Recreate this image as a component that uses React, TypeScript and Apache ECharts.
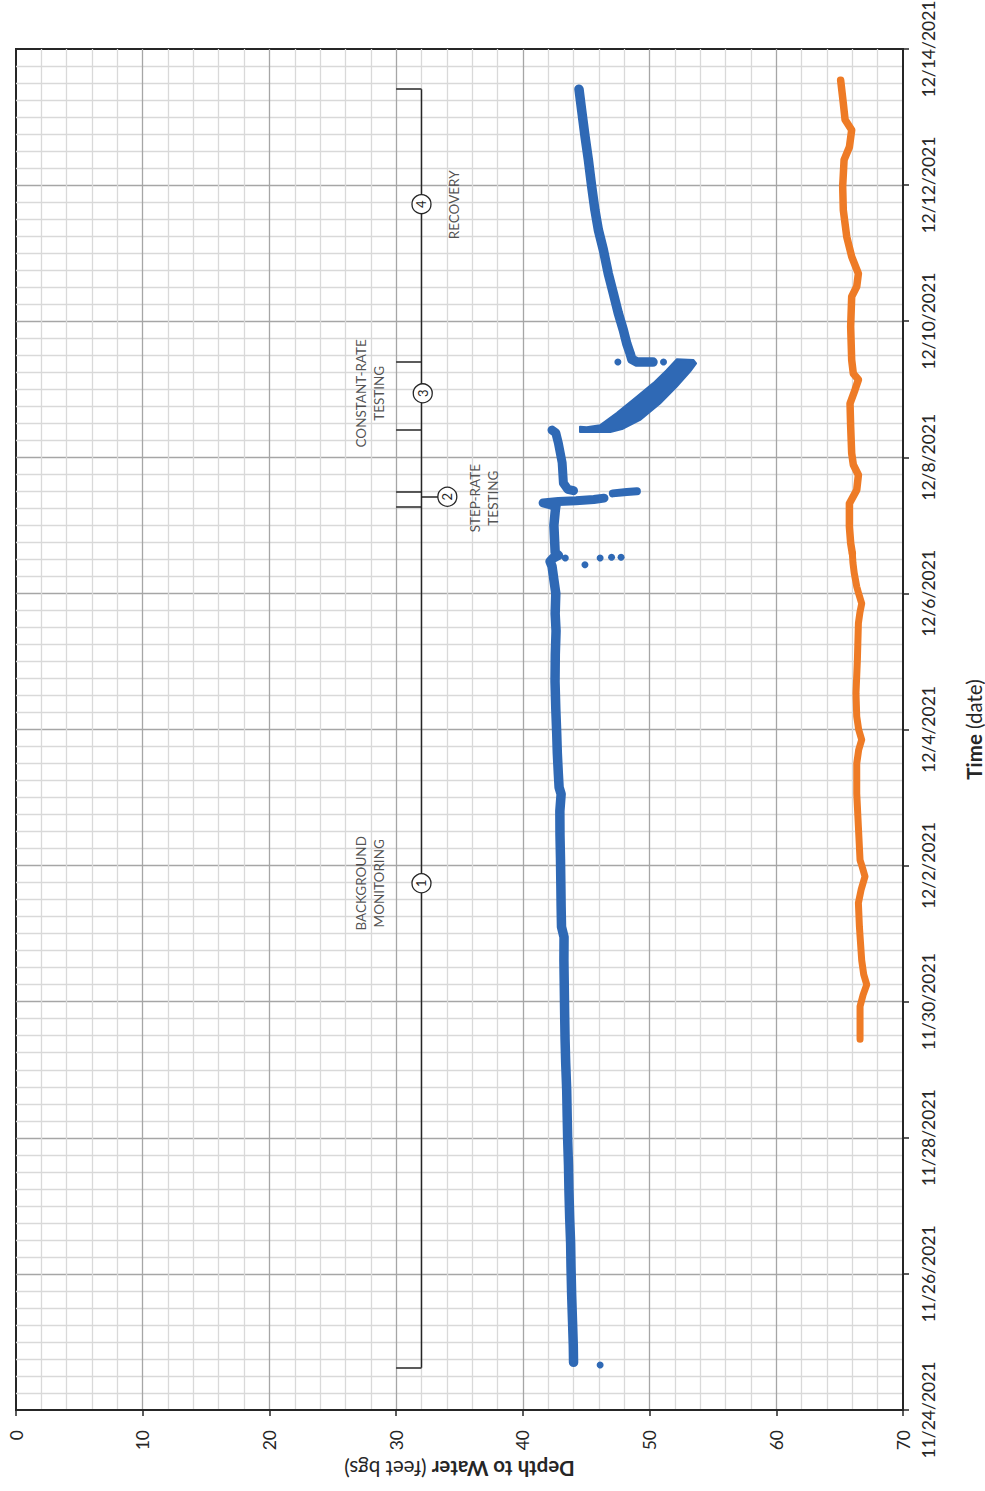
import React, { useEffect, useRef } from 'react';
import * as echarts from 'echarts';

const BLUE = '#2f69b5';
const ORANGE = '#ee7b26';
const INK = '#262626';
const FONT = 'Lato, "Noto Sans", sans-serif';

// Depth to water axis, feet below ground surface
const depthTicks = [0, 10, 20, 30, 40, 50, 60, 70];
// Time axis: days after 11/24/2021 00:00, labelled every 2 days
const dateLabels = [
  '11/24/2021', '11/26/2021', '11/28/2021', '11/30/2021', '12/2/2021', '12/4/2021',
  '12/6/2021', '12/8/2021', '12/10/2021', '12/12/2021', '12/14/2021',
];
const dayStep = 2;

// Pumping well readings, [day, depth ft]
const wellBackground: number[][] = [
  [0.70, 44.0], [0.95, 43.98], [1.30, 43.92], [1.70, 43.85], [2.10, 43.80], [2.45, 43.77],
  [2.80, 43.70], [3.20, 43.64], [3.60, 43.60], [3.95, 43.54], [4.30, 43.50], [4.70, 43.46],
  [5.10, 43.38], [5.45, 43.33], [5.80, 43.30], [6.20, 43.27], [6.60, 43.24], [6.95, 43.25],
  [7.10, 43.05], [7.40, 43.02], [7.70, 43.0], [8.10, 42.97], [8.45, 42.93], [8.80, 42.92],
  [9.05, 43.02], [9.15, 42.86], [9.35, 42.80], [9.65, 42.72], [9.95, 42.67], [10.30, 42.60],
  [10.70, 42.54], [11.10, 42.56], [11.45, 42.62], [11.70, 42.55], [12.00, 42.60], [12.20, 42.45],
  [12.40, 42.30], [12.47, 42.15], [12.52, 42.40], [12.56, 42.80], [12.60, 42.55], [12.80, 42.50],
  [13.00, 42.45], [13.20, 42.55], [13.28, 42.60],
];
const wellStepLow: number[][] = [
  [13.28, 42.6], [13.33, 41.6], [13.35, 42.8], [13.36, 44.2], [13.38, 45.6], [13.40, 46.4],
];
const wellStepHigh: number[][] = [[13.47, 47.1], [13.49, 48.2], [13.50, 49.0]];
const wellAfterStep: number[][] = [
  [13.51, 44.0], [13.53, 43.55], [13.62, 43.2], [13.92, 43.1], [14.21, 42.8], [14.36, 42.6], [14.40, 42.3],
];
// Outline of the constant-rate drawdown readings, [day, depth ft]
const drawdownEnvelope: number[][] = [
  [14.45, 44.51], [14.37, 44.51], [14.37, 46.9], [14.42, 47.9], [14.55, 49.25], [14.79, 50.82],
  [15.04, 52.14], [15.26, 53.19], [15.38, 53.67], [15.43, 53.45], [15.44, 52.14], [15.28, 51.35],
  [15.09, 50.30], [14.89, 48.99], [14.65, 47.41], [14.47, 46.09], [14.44, 45.04],
];
const wellRecovery: number[][] = [
  [15.40, 50.27], [15.40, 49.0], [15.44, 48.6], [15.53, 48.46], [15.67, 48.2], [15.87, 47.93],
  [16.12, 47.53], [16.41, 47.14], [16.70, 46.74], [17.05, 46.35], [17.34, 45.96], [17.63, 45.69],
  [17.98, 45.43], [18.37, 45.17], [18.71, 44.91], [19.10, 44.64], [19.41, 44.43],
];
const wellStray: number[][] = [
  [0.66, 46.1], [12.52, 43.35], [12.42, 44.9], [12.52, 46.1], [12.53, 47.0], [12.53, 47.75],
  [15.40, 47.5], [15.40, 51.1],
];

// Observation well readings, [day, depth ft]
const obsHourly: number[][] = [
  [5.45, 66.61], [5.93, 66.61], [6.10, 66.85], [6.25, 67.14], [6.40, 66.90], [6.61, 66.74],
  [7.10, 66.56], [7.45, 66.48], [7.65, 66.70], [7.84, 67.0], [8.00, 66.75], [8.08, 66.61],
  [8.57, 66.48], [9.06, 66.35], [9.50, 66.35], [9.70, 66.50], [9.85, 66.74], [10.00, 66.50],
  [10.19, 66.35], [10.53, 66.29], [11.02, 66.40], [11.56, 66.48], [11.72, 66.60], [11.85, 66.74],
  [12.00, 66.50], [12.10, 66.35], [12.30, 66.15], [12.45, 66.05], [12.59, 66.0],
];
const obsDense: number[][] = [
  [12.59, 66.0], [12.74, 65.87], [12.98, 65.77], [13.32, 65.77], [13.52, 66.35], [13.74, 66.48],
  [13.89, 66.08], [14.06, 65.95], [14.45, 65.87], [14.79, 65.82], [14.99, 66.21], [15.14, 66.48],
  [15.23, 66.08], [15.43, 65.95], [15.92, 65.87], [16.36, 65.95], [16.51, 66.35], [16.70, 66.48],
  [16.95, 65.95], [17.24, 65.56], [17.63, 65.29], [17.98, 65.24], [18.37, 65.35], [18.56, 65.77],
  [18.81, 65.95], [18.96, 65.43], [19.20, 65.29], [19.54, 65.08],
];

// Test phases along the annotation bracket
const phaseBounds = [0.62, 13.28, 13.49, 14.40, 15.40, 19.41];
const bracketDepth = 32;
const bracketTickDepth = 30;
const phaseMarkers: (number | string)[][] = [
  [32, 7.74, '1'], [34.04, 13.42, '2'], [32.1, 14.94, '3'], [32, 17.72, '4'],
];
const stepConnector = [[32, 13.42], [33.3, 13.42]];
const phaseNames: (number | string)[][] = [
  [27.94, 7.74, 'BACKGROUND\nMONITORING'],
  [27.94, 14.94, 'CONSTANT-RATE\nTESTING'],
  [36.93, 13.40, 'STEP-RATE\nTESTING'],
  [34.53, 17.71, 'RECOVERY'],
];

const toXY = (rows: number[][]) => rows.map(([t, d]) => [d, t]);

const trace = (data: number[][], color: string, width: number) => ({
  type: 'line',
  data: toXY(data),
  symbol: 'none',
  silent: true,
  z: 5,
  lineStyle: { color, width, cap: 'round', join: 'round' },
});

export default function App() {
  const ref = useRef<HTMLDivElement>(null);

  useEffect(() => {
    if (!ref.current) return;
    const chart = echarts.init(ref.current, null, { renderer: 'svg' });

    const axisLine = { show: true, onZero: false, lineStyle: { color: INK, width: 2 } };
    const labelText = { fontFamily: FONT, fontSize: 17.5, color: INK };
    const nameText = { fontFamily: FONT, fontSize: 20.5, color: INK };
    const majorGrid = {
      show: true,
      showMinLine: false,
      showMaxLine: false,
      lineStyle: { color: '#a6a6a6', width: 1.3 },
    };
    const minorGrid = { show: true, lineStyle: { color: '#d9d9d9', width: 1.3 } };
    const outerTick = { show: true, length: 6, lineStyle: { color: INK, width: 1.5 } };

    chart.setOption({
      animation: false,
      grid: {
        left: 16,
        top: 49,
        width: 887,
        height: 1361,
        show: true,
        borderColor: INK,
        borderWidth: 2,
        backgroundColor: 'transparent',
        outerBoundsMode: 'none',
      },
      xAxis: {
        type: 'value',
        position: 'bottom',
        min: depthTicks[0],
        max: depthTicks[depthTicks.length - 1],
        interval: depthTicks[1] - depthTicks[0],
        axisLine,
        axisTick: outerTick,
        axisLabel: { ...labelText, rotate: 90, margin: 20 },
        splitLine: majorGrid,
        minorTick: { show: false, splitNumber: 5 },
        minorSplitLine: minorGrid,
        name: '{b|Depth to Water} {n|(feet bgs)}',
        nameLocation: 'middle',
        nameRotate: 180,
        nameGap: 48,
        nameTextStyle: {
          ...nameText,
          rich: {
            b: { ...nameText, fontWeight: 'bold' },
            n: { ...nameText },
          },
        },
      },
      yAxis: {
        type: 'value',
        position: 'right',
        min: 0,
        max: (dateLabels.length - 1) * dayStep,
        interval: dayStep,
        axisLine,
        axisTick: outerTick,
        axisLabel: {
          ...labelText,
          rotate: 90,
          margin: 16,
          formatter: (v: number) => dateLabels[Math.round(v / dayStep)] ?? '',
        },
        splitLine: majorGrid,
        minorTick: { show: false, splitNumber: 8 },
        minorSplitLine: minorGrid,
        name: '{b|Time} {n|(date)}',
        nameLocation: 'middle',
        nameRotate: 90,
        nameGap: 60,
        nameTextStyle: {
          ...nameText,
          rich: {
            b: { ...nameText, fontWeight: 'bold' },
            n: { ...nameText },
          },
        },
      },
      series: [
        // annotation bracket with phase ticks
        {
          type: 'line',
          data: [
            [bracketDepth, phaseBounds[0]],
            [bracketDepth, phaseBounds[phaseBounds.length - 1]],
          ],
          symbol: 'none',
          silent: true,
          z: 3,
          lineStyle: { color: INK, width: 1.5 },
          markLine: {
            silent: true,
            symbol: ['none', 'none'],
            label: { show: false },
            lineStyle: { color: INK, width: 1.5, type: 'solid' },
            data: [
              ...phaseBounds.map((t) => [
                { coord: [bracketTickDepth, t] },
                { coord: [bracketDepth, t] },
              ]),
              [{ coord: stepConnector[0] }, { coord: stepConnector[1] }],
            ],
          },
        },
        {
          type: 'scatter',
          data: phaseMarkers,
          symbol: 'circle',
          symbolSize: 19,
          silent: true,
          z: 4,
          itemStyle: { color: '#ffffff', borderColor: INK, borderWidth: 1.3, opacity: 1 },
          label: {
            show: true,
            position: 'inside',
            rotate: 90,
            formatter: (p: any) => p.data[2],
            fontFamily: FONT,
            fontSize: 13,
            color: INK,
          },
        },
        {
          type: 'scatter',
          data: phaseNames,
          symbol: 'circle',
          symbolSize: 1,
          silent: true,
          z: 4,
          itemStyle: { color: 'rgba(0,0,0,0)' },
          label: {
            show: true,
            position: 'inside',
            rotate: 90,
            align: 'center',
            verticalAlign: 'middle',
            lineHeight: 18,
            formatter: (p: any) => p.data[2],
            fontFamily: FONT,
            fontSize: 13.5,
            color: INK,
          },
        },
        // observation well
        trace(obsHourly, ORANGE, 7),
        trace(obsDense, ORANGE, 7.5),
        // pumping well
        trace(wellBackground, BLUE, 9.5),
        trace(wellStepLow, BLUE, 9),
        trace(wellStepHigh, BLUE, 8),
        trace(wellAfterStep, BLUE, 9),
        {
          type: 'custom',
          silent: true,
          z: 5,
          data: [[drawdownEnvelope[0][1], drawdownEnvelope[0][0]]],
          encode: { x: 0, y: 1 },
          renderItem: (_params: any, api: any) => ({
            type: 'polygon',
            shape: { points: drawdownEnvelope.map(([t, d]) => api.coord([d, t])) },
            style: { fill: BLUE, stroke: BLUE, lineWidth: 2, lineJoin: 'round' },
          }),
        },
        trace(wellRecovery, BLUE, 9.5),
        {
          type: 'scatter',
          data: toXY(wellStray),
          symbol: 'circle',
          symbolSize: 7,
          silent: true,
          z: 5,
          itemStyle: { color: BLUE, opacity: 1 },
        },
      ],
    });

    return () => chart.dispose();
  }, []);

  return (
    <div
      ref={ref}
      style={{ position: 'absolute', left: 0, top: 0, width: 985, height: 1491 }}
    />
  );
}
